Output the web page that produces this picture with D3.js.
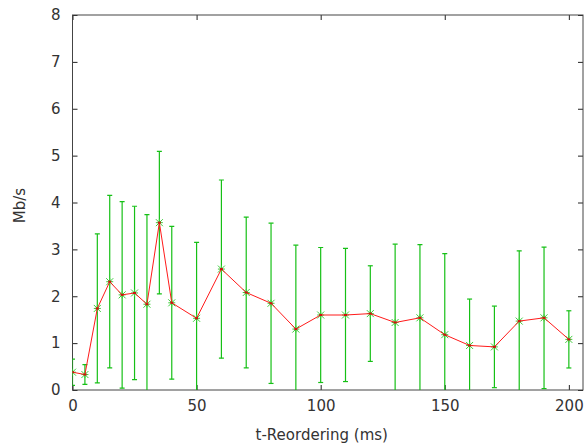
<!DOCTYPE html>
<html>
<head>
<meta charset="utf-8">
<script src="https://cdn.jsdelivr.net/npm/d3@7"></script>
<style>
  html, body { margin: 0; padding: 0; background: #fff; }
  svg text { font-family: "DejaVu Sans", sans-serif; fill: #333; }
</style>
</head>
<body>
<svg id="chart" width="586" height="447"></svg>
<script>
// Reordering delay (ms) against measured throughput (Mb/s), mean ± std dev
const delays = [0, 5, 10, 15, 20, 25, 30, 35, 40, 50, 60, 70, 80, 90, 100,
                110, 120, 130, 140, 150, 160, 170, 180, 190, 200];
const throughput = [0.38, 0.33, 1.74, 2.31, 2.03, 2.07, 1.83, 3.57, 1.86, 1.53, 2.58, 2.08, 1.85,
                    1.30, 1.60, 1.60, 1.63, 1.44, 1.54, 1.18, 0.95, 0.92, 1.47, 1.54, 1.08];
const stdDev = [0.28, 0.21, 1.59, 1.84, 1.99, 1.85, 1.91, 1.52, 1.63, 1.62, 1.90, 1.61, 1.71,
                1.79, 1.44, 1.42, 1.02, 1.67, 1.56, 1.73, 0.99, 0.87, 1.50, 1.51, 0.61];
const xTicks = [0, 50, 100, 150, 200];
const yTicks = [0, 1, 2, 3, 4, 5, 6, 7, 8];

const svg = d3.select("#chart");
const plotLeft = 72.5, plotRight = 583, plotTop = 15, plotBottom = 390;

const x = d3.scaleLinear().domain([0, 205.7]).range([plotLeft, plotRight]);
const y = d3.scaleLinear().domain([0, 8]).range([plotBottom, plotTop]);

svg.append("defs").append("clipPath").attr("id", "plotClip")
  .append("rect").attr("x", plotLeft).attr("y", plotTop)
  .attr("width", plotRight - plotLeft).attr("height", plotBottom - plotTop);

// Inward ticks on all four sides, labels on left and bottom only
const tickLen = 5;
const gAxes = svg.append("g");
gAxes.append("g").attr("transform", `translate(0,${plotBottom})`)
  .call(d3.axisBottom(x).tickValues(xTicks).tickSizeInner(-tickLen).tickSizeOuter(0).tickPadding(10))
  .call(g => g.select(".domain").remove());
gAxes.append("g").attr("transform", `translate(0,${plotTop})`)
  .call(d3.axisTop(x).tickValues(xTicks).tickSizeInner(-tickLen).tickSizeOuter(0).tickFormat(""))
  .call(g => g.select(".domain").remove());
gAxes.append("g").attr("transform", `translate(${plotLeft},0)`)
  .call(d3.axisLeft(y).tickValues(yTicks).tickSizeInner(-tickLen).tickSizeOuter(0).tickPadding(12))
  .call(g => g.select(".domain").remove());
gAxes.append("g").attr("transform", `translate(${plotRight},0)`)
  .call(d3.axisRight(y).tickValues(yTicks).tickSizeInner(-tickLen).tickSizeOuter(0).tickFormat(""))
  .call(g => g.select(".domain").remove());
gAxes.selectAll(".tick line").attr("stroke", "#222");
gAxes.selectAll(".tick text").attr("font-size", 15).attr("fill", "#333")
  .style("font-family", "'DejaVu Sans', sans-serif");

// Plot border
svg.append("rect").attr("x", plotLeft).attr("y", plotTop)
  .attr("width", plotRight - plotLeft).attr("height", plotBottom - plotTop)
  .attr("fill", "none").attr("stroke", "#444").attr("stroke-width", 1);

const data = delays.map((d, i) => ({ d, v: throughput[i], e: stdDev[i] }));
const plot = svg.append("g").attr("clip-path", "url(#plotClip)");

// Error bars
const green = "#16c016";
const cap = 2.5;
const eb = plot.append("g").attr("stroke", green).attr("stroke-width", 1.2);
data.forEach(p => {
  const cx = x(p.d), y1 = y(p.v + p.e), y0 = y(p.v - p.e);
  eb.append("line").attr("x1", cx).attr("x2", cx).attr("y1", y1).attr("y2", y0);
  eb.append("line").attr("x1", cx - cap).attr("x2", cx + cap).attr("y1", y1).attr("y2", y1);
  eb.append("line").attr("x1", cx - cap).attr("x2", cx + cap).attr("y1", y0).attr("y2", y0);
});

// Asterisk markers
const m = 3.5;
const mk = plot.append("g").attr("stroke", "#3ccf3c").attr("stroke-width", 1);
data.forEach(p => {
  const cx = x(p.d), cy = y(p.v);
  mk.append("path").attr("d",
    `M${cx - m},${cy}H${cx + m}M${cx},${cy - m}V${cy + m}` +
    `M${cx - m},${cy - m}L${cx + m},${cy + m}M${cx - m},${cy + m}L${cx + m},${cy - m}`);
});

// Mean throughput line
plot.append("path").datum(data)
  .attr("fill", "none").attr("stroke", "#ff1a1a").attr("stroke-width", 1)
  .attr("d", d3.line().x(p => x(p.d)).y(p => y(p.v)));

plot.append("g").selectAll("rect").data(data).join("rect")
  .attr("x", p => x(p.d) - 1.5).attr("y", p => y(p.v) - 1)
  .attr("width", 3).attr("height", 2).attr("fill", "#d01010");

// Axis titles
svg.append("text").attr("x", (plotLeft + plotRight) / 2 - 6).attr("y", 440)
  .attr("text-anchor", "middle").attr("font-size", 15).text("t-Reordering (ms)");
svg.append("text").attr("transform", `translate(25,${(plotTop + plotBottom) / 2 + 3}) rotate(-90)`)
  .attr("text-anchor", "middle").attr("font-size", 15).text("Mb/s");
</script>
</body>
</html>
